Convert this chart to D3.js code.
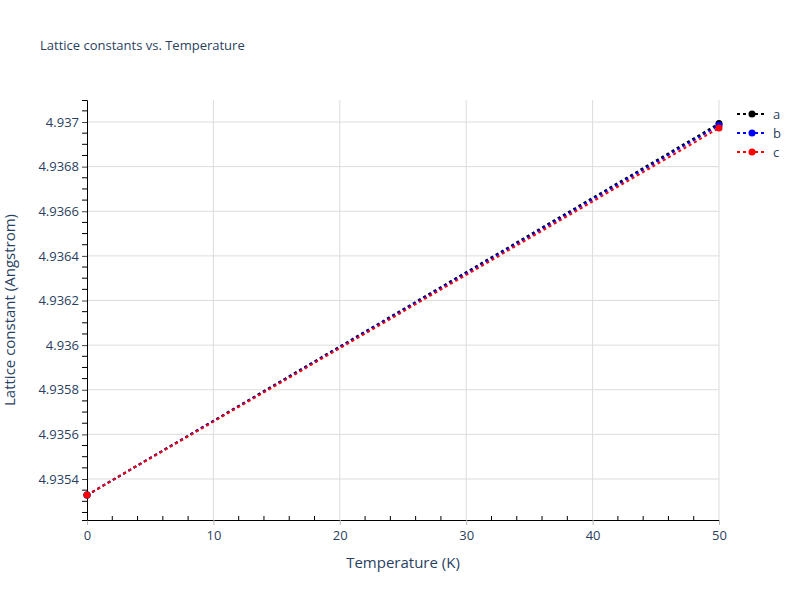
<!DOCTYPE html>
<html>
<head>
<meta charset="utf-8">
<script src="https://cdn.jsdelivr.net/npm/d3@7"></script>
<style>
  body { margin: 0; background: #fff; }
  text { font-family: "Open Sans", Verdana, Arial, sans-serif; fill: #2a3f5f; }
</style>
</head>
<body>
<div id="chart"></div>
<script>
// Temperatures (K) and lattice constants
const temperatures = [0, 50];
const seriesNames = ['a', 'b', 'c'];
const seriesColors = ['black', 'blue', 'red'];
const valuesA = [4.935328, 4.936993];
const valuesB = [4.935328, 4.936985];
const valuesC = [4.935328, 4.936973];
const xTicks = [0, 10, 20, 30, 40, 50];
const yTicks = [4.9354, 4.9356, 4.9358, 4.936, 4.9362, 4.9364, 4.9366, 4.9368, 4.937];

const series = [valuesA, valuesB, valuesC].map((vals, i) => ({
  name: seriesNames[i],
  color: seriesColors[i],
  points: vals.map((v, j) => ({ t: temperatures[j], v })),
}));

const width = 800;
const height = 600;
const margin = { top: 100, right: 81, bottom: 80, left: 87 };

const x = d3.scaleLinear()
  .domain([0, 50])
  .range([margin.left, width - margin.right]);

const y = d3.scaleLinear()
  .domain([4.9352163, 4.9370986])
  .range([height - margin.bottom, margin.top]);

const svg = d3.select('#chart').append('svg')
  .attr('width', width)
  .attr('height', height);

// Grid lines
svg.append('g')
  .selectAll('line')
  .data(xTicks.slice(1))
  .join('line')
  .attr('x1', (d) => x(d))
  .attr('x2', (d) => x(d))
  .attr('y1', margin.top)
  .attr('y2', height - margin.bottom)
  .attr('stroke', '#dcdcdc')
  .attr('stroke-width', 1);

svg.append('g')
  .selectAll('line')
  .data(yTicks)
  .join('line')
  .attr('x1', margin.left)
  .attr('x2', width - margin.right)
  .attr('y1', (d) => y(d))
  .attr('y2', (d) => y(d))
  .attr('stroke', '#dcdcdc')
  .attr('stroke-width', 1);

// Minor ticks: x inside every 2 K, y outside every 0.00005
const xMinor = d3.range(2, 50, 2).filter((d) => d % 10 !== 0);
svg.append('g')
  .selectAll('line')
  .data(xMinor)
  .join('line')
  .attr('x1', (d) => x(d))
  .attr('x2', (d) => x(d))
  .attr('y1', height - margin.bottom)
  .attr('y2', height - margin.bottom - 4)
  .attr('stroke', '#000');

const yMinor = d3.range(0, 40).map((i) => 4.93525 + i * 0.00005)
  .filter((d) => d <= 4.93709 && Math.abs(Math.round(d / 0.0002) * 0.0002 - d) > 1e-7);
svg.append('g')
  .selectAll('line')
  .data(yMinor)
  .join('line')
  .attr('x1', margin.left)
  .attr('x2', margin.left - 5)
  .attr('y1', (d) => y(d))
  .attr('y2', (d) => y(d))
  .attr('stroke', '#000');

// Axes
const xAxis = d3.axisBottom(x).tickValues(xTicks).tickSizeOuter(0).tickSize(5).tickPadding(6);
const gx = svg.append('g')
  .attr('transform', `translate(0,${height - margin.bottom})`)
  .call(xAxis);
gx.select('.domain').attr('stroke', '#000');
gx.selectAll('.tick line').attr('stroke', '#bbb');
gx.selectAll('.tick text').attr('font-size', 13).style('fill', '#2a3f5f');

const yAxis = d3.axisLeft(y).tickValues(yTicks).tickSizeOuter(0).tickSize(5).tickPadding(3)
  .tickFormat((d) => d3.format('')(+d.toFixed(4)));
const gy = svg.append('g')
  .attr('transform', `translate(${margin.left},0)`)
  .call(yAxis);
gy.select('.domain').attr('stroke', '#000');
gy.selectAll('.tick line').attr('stroke', '#444');
gy.selectAll('.tick text').attr('font-size', 13).style('fill', '#2a3f5f');

// Axis titles
svg.append('text')
  .attr('x', (margin.left + width - margin.right) / 2)
  .attr('y', 568)
  .attr('text-anchor', 'middle')
  .attr('font-size', 15)
  .text('Temperature (K)');

svg.append('text')
  .attr('transform', `translate(15,${(margin.top + height - margin.bottom) / 2}) rotate(-90)`)
  .attr('text-anchor', 'middle')
  .attr('font-size', 15)
  .text('Lattice constant (Angstrom)');

// Title
svg.append('text')
  .attr('x', 40)
  .attr('y', 50)
  .attr('font-size', 13)
  .text('Lattice constants vs. Temperature');

// Series lines and markers
const line = d3.line().x((d) => x(d.t)).y((d) => y(d.v));
const plot = svg.append('g');
series.forEach((s) => {
  plot.append('path')
    .datum(s.points)
    .attr('d', line)
    .attr('fill', 'none')
    .attr('stroke', s.color)
    .attr('stroke-width', 2)
    .attr('stroke-dasharray', '3,3');
  plot.selectAll(null)
    .data(s.points)
    .join('circle')
    .attr('cx', (d) => x(d.t))
    .attr('cy', (d) => y(d.v))
    .attr('r', 3.5)
    .attr('fill', s.color);
});

// Legend
const legend = svg.append('g').attr('transform', 'translate(737,114)');
series.forEach((s, i) => {
  const g = legend.append('g').attr('transform', `translate(0,${i * 19})`);
  g.append('line')
    .attr('x1', 0).attr('x2', 30)
    .attr('stroke', s.color)
    .attr('stroke-width', 2)
    .attr('stroke-dasharray', '3,3');
  g.append('circle').attr('cx', 15).attr('r', 3.5).attr('fill', s.color);
  g.append('text')
    .attr('x', 36)
    .attr('dy', '0.35em')
    .attr('font-size', 13)
    .text(s.name);
});
</script>
</body>
</html>
